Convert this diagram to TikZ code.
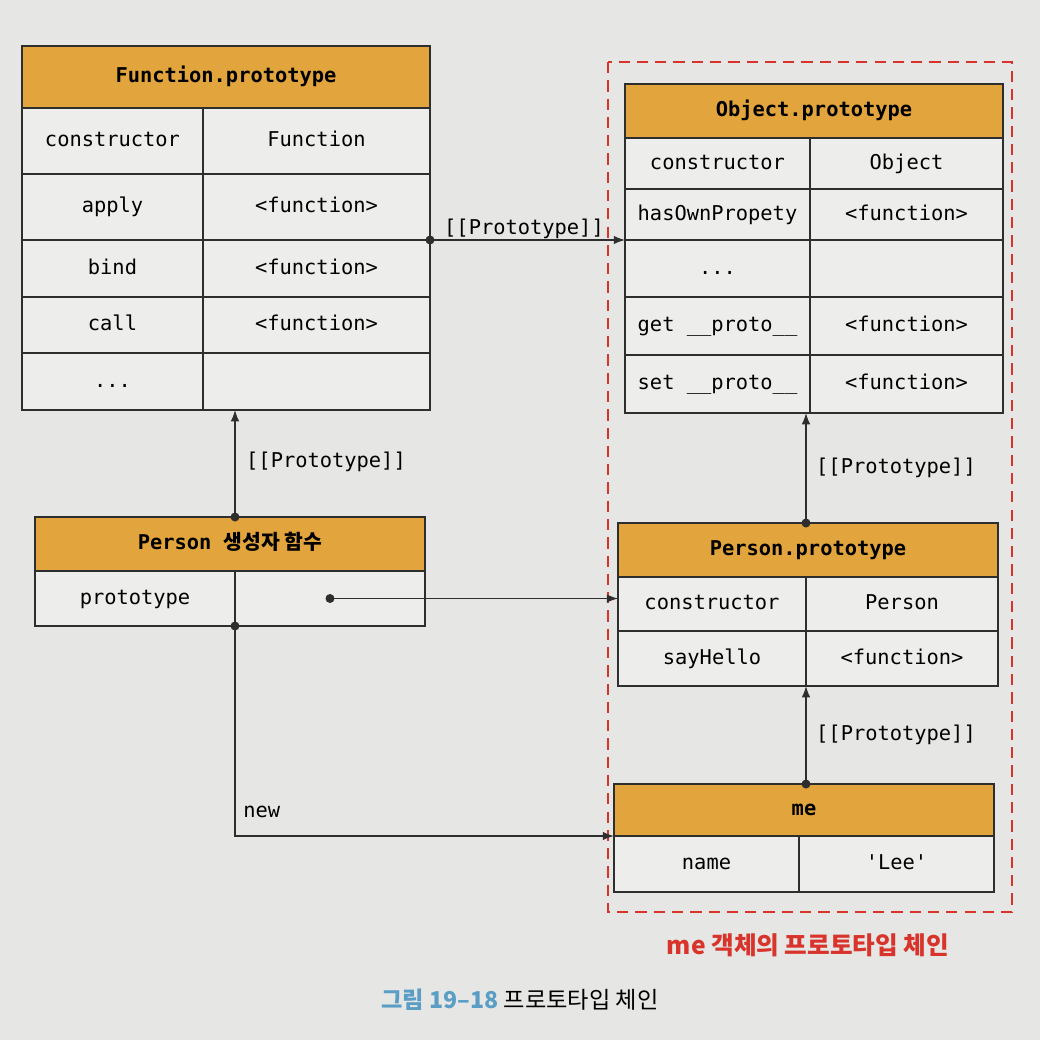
\documentclass[tikz,border=0pt]{standalone}
\usepackage{fontspec}
\setmonofont{DejaVu Sans Mono}
\newfontfamily\krfont{Noto Sans CJK KR}
\usetikzlibrary{arrows.meta,calc}
\definecolor{hdr}{HTML}{E2A43C}
\definecolor{bgc}{HTML}{E6E6E4}
\definecolor{cellc}{HTML}{EDEDEB}
\definecolor{linec}{HTML}{2E2E2E}
\definecolor{redc}{HTML}{D8342B}
\definecolor{bluec}{HTML}{5A9EC6}
\tikzset{
  cellst/.style={draw=linec, line width=1.2pt, fill=cellc, inner sep=0pt, outer sep=0pt,
    text height=10pt, text depth=1.5pt,
    font=\ttfamily\fontsize{14.5}{16}\selectfont, text=black},
  hdrst/.style={cellst, fill=hdr, font=\ttfamily\bfseries\fontsize{14.5}{16}\selectfont},
  conn/.style={draw=linec, line width=0.9pt, -{Latex[length=8pt,width=6pt]}},
  lbl/.style={font=\ttfamily\fontsize{14.5}{16}\selectfont, text=black, inner sep=0pt},
  dotst/.style={fill=linec}
}
\newcommand\mkcell[7][cellst]{\node[#1, minimum width={(#5-#3)*0.025cm}, minimum height={(#6-#4)*0.025cm}] (#2) at ({(#3+#5)/2},{(#4+#6)/2}) {#7};}
\begin{document}
\begin{tikzpicture}[x=0.025cm,y=-0.025cm]
\useasboundingbox (0,0) rectangle (1040,1040);
\fill[bgc] (0,0) rectangle (1040,1040);

% Function.prototype
\mkcell[hdrst]{fh}{22}{46}{430}{108}{Function.prototype}
\mkcell{f1a}{22}{108}{203}{174}{constructor}
\mkcell{f1b}{203}{108}{430}{174}{Function}
\mkcell{f2a}{22}{174}{203}{240}{apply}
\mkcell{f2b}{203}{174}{430}{240}{<function>}
\mkcell{f3a}{22}{240}{203}{297}{bind}
\mkcell{f3b}{203}{240}{430}{297}{<function>}
\mkcell{f4a}{22}{297}{203}{353}{call}
\mkcell{f4b}{203}{297}{430}{353}{<function>}
\mkcell{f5a}{22}{353}{203}{410}{...}
\mkcell{f5b}{203}{353}{430}{410}{}

% red dashed region
\draw[redc, line width=1.4pt, dash pattern=on 8pt off 5pt] (608,62) rectangle (1012,912);

% Object.prototype
\mkcell[hdrst]{oh}{625}{84}{1003}{138}{Object.prototype}
\mkcell{o1a}{625}{138}{810}{189}{constructor}
\mkcell{o1b}{810}{138}{1003}{189}{Object}
\mkcell{o2a}{625}{189}{810}{240}{hasOwnPropety}
\mkcell{o2b}{810}{189}{1003}{240}{<function>}
\mkcell{o3a}{625}{240}{810}{297}{...}
\mkcell{o3b}{810}{240}{1003}{297}{}
\mkcell{o4a}{625}{297}{810}{355}{get \_\_proto\_\_}
\mkcell{o4b}{810}{297}{1003}{355}{<function>}
\mkcell{o5a}{625}{355}{810}{413}{set \_\_proto\_\_}
\mkcell{o5b}{810}{355}{1003}{413}{<function>}

% Person constructor function
\mkcell[hdrst]{ph}{35}{517}{425}{571}{Person {\krfont\bfseries 생성자 함수}}
\mkcell{p1a}{35}{571}{235}{626}{prototype}
\mkcell{p1b}{235}{571}{425}{626}{}

% Person.prototype
\mkcell[hdrst]{qh}{618}{523}{998}{577}{Person.prototype}
\mkcell{q1a}{618}{577}{806}{631}{constructor}
\mkcell{q1b}{806}{577}{998}{631}{Person}
\mkcell{q2a}{618}{631}{806}{686}{sayHello}
\mkcell{q2b}{806}{631}{998}{686}{<function>}

% me
\mkcell[hdrst]{mh}{614}{784}{994}{836}{me}
\mkcell{m1a}{614}{836}{799}{892}{name}
\mkcell{m1b}{799}{836}{994}{892}{'Lee'}

% connectors
\coordinate (fpout) at (f2b.south east);
\fill[dotst] (fpout) circle (3.2pt);
\draw[conn] (fpout) -- (fpout -| o3a.west);
\node[lbl] (l1) at (524,229) {[[Prototype]]};

\coordinate (pftop) at (p1a.north east |- ph.north);
\fill[dotst] (pftop) circle (3.2pt);
\draw[conn] (pftop) -- (pftop |- f5b.south);
\node[lbl] (l2) at (326,462) {[[Prototype]]};

\coordinate (pptop) at (q1a.east |- qh.north);
\fill[dotst] (pptop) circle (3.2pt);
\draw[conn] (pptop) -- (pptop |- o5b.south);
\node[lbl] (l3) at (896,468) {[[Prototype]]};

\coordinate (metop) at (q2a.south east |- mh.north);
\fill[dotst] (metop) circle (3.2pt);
\draw[conn] (metop) -- (q2a.south east);
\node[lbl] (l4) at (896,735) {[[Prototype]]};

\fill[dotst] (p1b.center) circle (3.2pt);
\draw[conn] (p1b.center) -- (p1b.center -| q1a.west);

\fill[dotst] (p1a.south east) circle (3.2pt);
\draw[conn] (p1a.south east) |- (m1a.north west);
\node[lbl, anchor=west] (lnew) at (243,812) {new};

% labels
\node[font=\krfont\bfseries\fontsize{17.5}{20}\selectfont, text=redc] (chain) at (808,945) {me 객체의 프로토타입 체인};
\node[font=\krfont\fontsize{16.5}{20}\selectfont, text=black] (cap) at (520,1000) {{\bfseries\color{bluec}그림 19–18} 프로토타입 체인};
\end{tikzpicture}
\end{document}
